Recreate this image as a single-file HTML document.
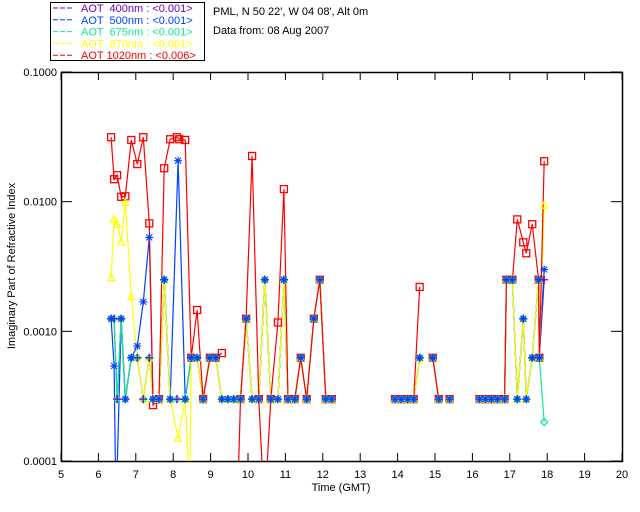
<!DOCTYPE html>
<html><head><meta charset="utf-8">
<style>
body{margin:0;background:#fff;}
svg{display:block;font-family:"Liberation Sans",sans-serif;}
#legend text{white-space:pre;}
</style></head>
<body>
<svg id="chart" width="640" height="512" viewBox="0 0 640 512">
<defs><clipPath id="pc"><rect x="61" y="72" width="561" height="389"/></clipPath></defs>
<rect width="640" height="512" fill="#fff"/>
<g id="legend">
<rect x="50.5" y="2.5" width="154" height="58" fill="#fff" stroke="#000" stroke-width="1"/>
</g>
<text x="213" y="15" font-size="11">PML, N 50 22', W 04 08', Alt 0m</text>
<text x="213" y="34" font-size="11">Data from: 08 Aug 2007</text>
<g id="axes"></g>
<g id="lines" clip-path="url(#pc)"></g>
<g id="marks" clip-path="url(#pc)"></g>
<text x="341" y="491" font-size="11" text-anchor="middle">Time (GMT)</text>
<text transform="translate(15,266) rotate(-90)" font-size="11" text-anchor="middle">Imaginary Part of Refractive Index</text>
</svg>
<script>
const xTicks=[5,6,7,8,9,10,11,12,13,14,15,16,17,18,19,20];
const yTicks=[0.1,0.01,0.001,0.0001];
const yTickLabels=["0.1000","0.0100","0.0010","0.0001"];
const legendLabels=["AOT  400nm : <0.001>","AOT  500nm : <0.001>","AOT  675nm : <0.001>","AOT  870nm : <0.001>","AOT 1020nm : <0.006>"];
const tailT=[8.48,8.64,8.80,8.98,9.14,9.30,9.46,9.62,9.80,9.95,10.11,10.29,10.45,10.61,10.80,10.96,11.07,11.25,11.41,11.57,11.76,11.92,12.08,12.24,null,13.93,14.10,14.27,14.43,14.59,null,14.94,15.10,null,15.39,null,16.19,16.35,16.51,16.67,16.86,16.91,17.07,17.20,17.36,17.44,17.60,17.77,17.79];
const tailV=[0.000625,0.000625,0.0003,0.000625,0.000625,0.0003,0.0003,0.0003,0.0003,0.00125,0.0003,0.0003,0.0025,0.0003,0.0003,0.0025,0.0003,0.0003,0.000625,0.0003,0.00125,0.0025,0.0003,0.0003,null,0.0003,0.0003,0.0003,0.0003,0.000625,null,0.000625,0.0003,null,0.0003,null,0.0003,0.0003,0.0003,0.0003,0.0003,0.0025,0.0025,0.0003,0.00125,0.0003,0.000625,0.0025,0.000625];
const purpleHeadT=[6.34,6.42,6.50,6.61,6.72,6.88,7.04,7.20,7.36,7.46,7.62,7.76,7.92,8.10,8.32];
const purpleHeadV=[0.00125,0.00125,0.0003,0.00125,0.0003,0.000625,0.000625,0.0003,0.000625,0.0003,0.0003,0.0025,0.0003,0.0003,0.0003];
const purpleEndT=[17.92], purpleEndV=[0.0025];
const blueHeadT=[6.34,6.42,6.47,6.61,6.72,6.88,7.04,7.20,7.36,7.46,7.62,7.76,7.92,8.13,8.32];
const blueHeadV=[0.00125,0.00054,0.00004,0.00125,0.0003,0.000625,0.00077,0.00169,0.0053,0.0003,0.0003,0.0025,0.0003,0.0207,0.0003];
const blueEndT=[17.92], blueEndV=[0.003];
const greenHeadT=purpleHeadT;
const greenHeadV=[0.00125,0.00125,0.0003,0.00125,0.0003,0.000625,0.000625,0.0003,0.000625,0.0003,0.0003,0.0025,0.0003,0.0003,0.0003];
const greenEndT=[17.92], greenEndV=[0.0002];
const yellowHeadT=[6.34,6.42,6.50,6.61,6.72,6.88,7.04,7.20,7.36,7.46,7.62,7.76,7.92,8.13,8.32,8.44];
const yellowHeadV=[0.0026,0.0073,0.0067,0.0049,0.0099,0.00185,0.000625,0.0003,0.000625,0.0003,0.0003,0.0025,0.0003,0.00015,0.0003,0.00005];
const yellowEndT=[17.92], yellowEndV=[0.0094];
const redT=[6.34,6.42,6.50,6.61,6.72,6.88,7.04,7.20,7.36,7.46,7.62,7.76,7.92,8.10,8.16,8.32,8.48,8.64,8.80,8.98,9.14,9.30,null,9.70,9.80,9.95,10.11,10.29,10.44,10.61,10.80,10.96,11.07,11.25,11.41,11.57,11.76,11.92,12.08,12.24,null,13.93,14.10,14.27,14.43,14.59,null,14.94,15.10,null,15.39,null,16.19,16.35,16.51,16.67,16.86,16.91,17.07,17.20,17.36,17.44,17.60,17.77,17.79,17.92];
const redV=[0.0314,0.0149,0.0160,0.0109,0.0110,0.0299,0.0195,0.0314,0.0068,0.00027,0.0003,0.0181,0.0303,0.0314,0.0303,0.0299,0.000625,0.00146,0.0003,0.000625,0.000625,0.00068,null,0.00003,0.0003,0.00125,0.0225,0.0003,0.00004,0.0003,0.00117,0.0125,0.0003,0.0003,0.000625,0.0003,0.00125,0.0025,0.0003,0.0003,null,0.0003,0.0003,0.0003,0.0003,0.0022,null,0.000625,0.0003,null,0.0003,null,0.0003,0.0003,0.0003,0.0003,0.0003,0.0025,0.0025,0.0073,0.00486,0.0040,0.0067,0.0025,0.000625,0.0205];

const X0=61,X1=622,Y0=72,Y1=461;
const xs=t=>X0+(t-5)/15*(X1-X0);
const ys=v=>Y0+(-1-Math.log10(v))/3*(Y1-Y0);
const NS="http://www.w3.org/2000/svg";
function mk(tag,attrs,parent){const e=document.createElementNS(NS,tag);for(const k in attrs)e.setAttribute(k,attrs[k]);parent.appendChild(e);return e;}

const axes=document.getElementById('axes');
const frame=mk('rect',{x:X0+.5,y:Y0+.5,width:X1-X0,height:Y1-Y0,fill:'none',stroke:'#000','stroke-width':1.5},axes);


xTicks.forEach(t=>{const x=xs(t);
 mk('line',{x1:x,x2:x,y1:Y1,y2:Y1-8,stroke:'#000'},axes);
 mk('line',{x1:x,x2:x,y1:Y0,y2:Y0+8,stroke:'#000'},axes);
 const l=mk('text',{x:x,y:Y1+17,'font-size':11,'text-anchor':'middle'},axes);l.textContent=t;
 
 
});
yTicks.forEach((v,i)=>{const y=ys(v);
 mk('line',{x1:X0,x2:X0+11,y1:y,y2:y,stroke:'#000'},axes);
 mk('line',{x1:X1,x2:X1-11,y1:y,y2:y,stroke:'#000'},axes);
 const l=mk('text',{x:X0-4,y:y+4,'font-size':11,'text-anchor':'end'},axes);l.textContent=yTickLabels[i];
 
 
});

const series=[
 {name:'aot-400',color:'#7000c0',T:purpleHeadT.concat(tailT,purpleEndT),V:purpleHeadV.concat(tailV,purpleEndV),m:'plus'},
 {name:'aot-500',color:'#0040ff',T:blueHeadT.concat(tailT,blueEndT),V:blueHeadV.concat(tailV,blueEndV),m:'star'},
 {name:'aot-675',color:'#10e890',T:greenHeadT.concat(tailT,greenEndT),V:greenHeadV.concat(tailV,greenEndV),m:'diamond'},
 {name:'aot-870',color:'#ffff00',T:yellowHeadT.concat(tailT,yellowEndT),V:yellowHeadV.concat(tailV,yellowEndV),m:'tri'},
 {name:'aot-1020',color:'#ff0000',T:redT,V:redV,m:'square'}
];
const lines=document.getElementById('lines'), marks=document.getElementById('marks');
[0,1,2,3,4].forEach(si=>{const s=series[si];let d='',pen=false;
 s.T.forEach((t,i)=>{const v=s.V[i];if(t===null||v===null){pen=false;return;}
  d+=(pen?'L':'M')+xs(t).toFixed(1)+' '+ys(v).toFixed(1);pen=true;});
 const p=mk('path',{d:d,fill:'none',stroke:s.color,'stroke-width':1.2},lines);
 
 
});
function marker(s,x,y){const c=s.color;let e;
 if(s.m==='square'){e=mk('rect',{x:x-3.5,y:y-3.5,width:7,height:7,fill:'none',stroke:c,'stroke-width':1.3},marks);}
 else if(s.m==='tri'){e=mk('path',{d:`M${x} ${y-4}L${x+3.5} ${y+3}L${x-3.5} ${y+3}Z`,fill:'none',stroke:c,'stroke-width':1.2},marks);}
 else if(s.m==='diamond'){e=mk('path',{d:`M${x} ${y-3.5}L${x+3.5} ${y}L${x} ${y+3.5}L${x-3.5} ${y}Z`,fill:'none',stroke:c,'stroke-width':1.2},marks);}
 else if(s.m==='plus'){e=mk('path',{d:`M${x-4} ${y}H${x+4}M${x} ${y-4}V${y+4}`,stroke:c,'stroke-width':1.3},marks);}
 else {e=mk('path',{d:`M${x-4} ${y}H${x+4}M${x} ${y-4}V${y+4}M${x-3} ${y-3}L${x+3} ${y+3}M${x-3} ${y+3}L${x+3} ${y-3}`,stroke:c,'stroke-width':1.1},marks);}
 return e;}
[4,3,2,0,1].forEach(si=>{const s=series[si];
 s.T.forEach((t,i)=>{const v=s.V[i];if(t===null||v===null)return;
  const e=marker(s,xs(t),ys(v));
  
  
 });
});
const lg=document.getElementById('legend');
series.forEach((s,i)=>{const y=8+i*11.8;
 const ln=mk('line',{x1:53,x2:74,y1:y,y2:y,stroke:s.color,'stroke-dasharray':'5 2','stroke-width':1},lg);
 
 
 const tx=mk('text',{x:81,y:y+4,'font-size':11,fill:s.color},lg);tx.textContent=legendLabels[i];
 
 
});
</script>
</body></html>
